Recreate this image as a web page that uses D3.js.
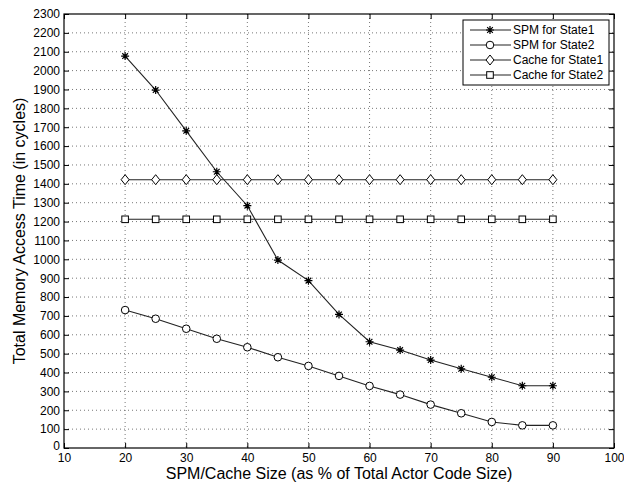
<!DOCTYPE html>
<html>
<head>
<meta charset="utf-8">
<script src="https://cdn.jsdelivr.net/npm/d3@7"></script>
<style>
  body { margin: 0; background: #fff; }
  svg { font-family: "Liberation Sans", Arial, sans-serif; }
  .grid line { stroke: #555; stroke-dasharray: 1,3; stroke-width: 0.8; }
</style>
</head>
<body>
<div id="chart"></div>
<script>
// chart data
const sizes = [20, 25, 30, 35, 40, 45, 50, 55, 60, 65, 70, 75, 80, 85, 90];
const spmState1 = [2077, 1897, 1681, 1464, 1284, 996, 887, 708, 563, 519, 466, 420, 375, 330, 330];
const spmState2 = [731, 685, 632, 579, 534, 481, 435, 382, 329, 283, 230, 184, 138, 120, 120];
const cacheState1 = [1422, 1422, 1422, 1422, 1422, 1422, 1422, 1422, 1422, 1422, 1422, 1422, 1422, 1422, 1422];
const cacheState2 = [1212, 1212, 1212, 1212, 1212, 1212, 1212, 1212, 1212, 1212, 1212, 1212, 1212, 1212, 1212];
const seriesNames = ['SPM for State1', 'SPM for State2', 'Cache for State1', 'Cache for State2'];
const markers = ['star', 'circle', 'diamond', 'square'];
const xTicks = d3.range(10, 101, 10);
const yTicks = d3.range(0, 2301, 100);

const W = 624, H = 485;
const margin = {top: 14, right: 10, bottom: 37, left: 64};
const width = W - margin.left - margin.right;
const height = H - margin.top - margin.bottom;

const svg = d3.select('#chart').append('svg')
    .attr('width', W)
    .attr('height', H);

const chart = svg.append('g')
    .attr('transform', `translate(${margin.left},${margin.top})`);

const x = d3.scaleLinear().domain([10, 100]).range([0, width]);
const y = d3.scaleLinear().domain([0, 2300]).range([height, 0]);

// dotted grid
const grid = chart.append('g').attr('class', 'grid');
grid.selectAll('.gx')
    .data(xTicks.slice(1, -1))
  .join('line')
    .attr('x1', d => x(d)).attr('x2', d => x(d))
    .attr('y1', 0).attr('y2', height);
grid.selectAll('.gy')
    .data(yTicks.slice(1, -1))
  .join('line')
    .attr('y1', d => y(d)).attr('y2', d => y(d))
    .attr('x1', 0).attr('x2', width);

// axes, ticks pointing inward like matlab
const fmt = d3.format('d');
const axisStyle = g => {
    g.selectAll('.domain').remove();
    g.selectAll('line').attr('stroke', '#000');
    g.selectAll('text').attr('fill', '#000').style('font-size', '12px');
};
chart.append('g')
    .attr('transform', `translate(0,${height})`)
    .call(d3.axisBottom(x).tickValues(xTicks).tickSize(-5).tickPadding(5).tickFormat(fmt))
    .call(axisStyle);
const yAxisG = chart.append('g')
    .call(d3.axisLeft(y).tickValues(yTicks).tickSize(-5).tickPadding(4).tickFormat(fmt))
    .call(axisStyle);
// nudge the 0 label up a little so it clears the "10" below it
yAxisG.selectAll('.tick text').filter(d => d === 0).attr('dy', '0.1em');

chart.append('g')
    .call(d3.axisTop(x).tickValues(xTicks).tickSize(-5).tickFormat(''))
    .call(axisStyle);
chart.append('g')
    .attr('transform', `translate(${width},0)`)
    .call(d3.axisRight(y).tickValues(yTicks).tickSize(-5).tickFormat(''))
    .call(axisStyle);

chart.append('rect')
    .attr('width', width).attr('height', height)
    .attr('fill', 'none').attr('stroke', '#000').attr('stroke-width', 1.2);

// marker drawing
function drawMarker(g, type) {
    if (type === 'star') {
        const r = 4;
        const d = [0, 45, 90, 135].map(a => {
            const t = a * Math.PI / 180;
            return `M${-r * Math.cos(t)},${-r * Math.sin(t)}L${r * Math.cos(t)},${r * Math.sin(t)}`;
        }).join('');
        g.append('path').attr('d', d).attr('stroke', '#000').attr('stroke-width', 1.2).attr('fill', 'none');
    } else if (type === 'circle') {
        g.append('circle').attr('r', 3.8).attr('fill', '#fff').attr('stroke', '#000').attr('stroke-width', 1);
    } else if (type === 'diamond') {
        g.append('path').attr('d', 'M0,-5L4,0L0,5L-4,0Z').attr('fill', '#fff').attr('stroke', '#000').attr('stroke-width', 1);
    } else {
        g.append('rect').attr('x', -3.3).attr('y', -3.3).attr('width', 6.6).attr('height', 6.6)
            .attr('fill', '#fff').attr('stroke', '#000').attr('stroke-width', 1);
    }
}

const allSeries = [spmState1, spmState2, cacheState1, cacheState2];
const line = d3.line().x((d, i) => x(sizes[i])).y(d => y(d));

allSeries.forEach((vals, k) => {
    chart.append('path')
        .datum(vals)
        .attr('d', line)
        .attr('fill', 'none')
        .attr('stroke', '#222')
        .attr('stroke-width', 1.1);
    chart.selectAll(`.m${k}`)
        .data(vals)
      .join('g')
        .attr('class', `m${k}`)
        .attr('transform', (d, i) => `translate(${x(sizes[i])},${y(d)})`)
        .each(function() { drawMarker(d3.select(this), markers[k]); });
});

// legend
const legend = svg.append('g').attr('transform', 'translate(463,20)');
legend.append('rect')
    .attr('width', 146).attr('height', 65)
    .attr('fill', '#fff').attr('stroke', '#000').attr('stroke-width', 1);
seriesNames.forEach((name, k) => {
    const row = legend.append('g').attr('transform', `translate(0,${10 + k * 15})`);
    row.append('line').attr('x1', 7).attr('x2', 48).attr('stroke', '#222').attr('stroke-width', 1.1);
    drawMarker(row.append('g').attr('transform', 'translate(27,0)'), markers[k]);
    row.append('text').attr('x', 50).attr('dy', '0.35em')
        .style('font-size', '12px').text(name);
});

// axis titles
svg.append('text')
    .attr('x', margin.left + width / 2)
    .attr('y', H - 6)
    .attr('text-anchor', 'middle')
    .style('font-size', '16px')
    .text('SPM/Cache Size (as % of Total Actor Code Size)');

svg.append('text')
    .attr('transform', `translate(25,${margin.top + height / 2}) rotate(-90)`)
    .attr('text-anchor', 'middle')
    .style('font-size', '16px')
    .text('Total Memory Access Time (in cycles)');
</script>
</body>
</html>
